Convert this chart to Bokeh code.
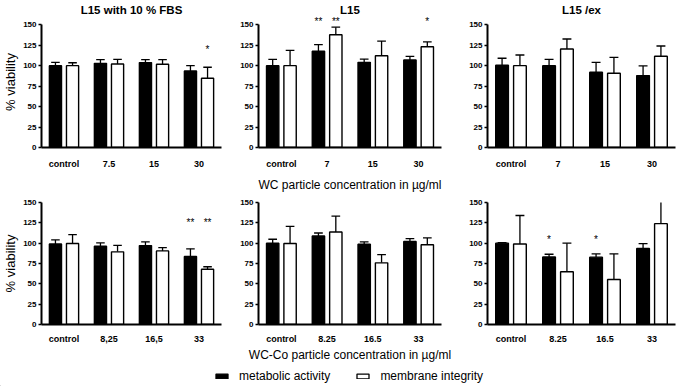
from bokeh.plotting import figure
from bokeh.layouts import column, row
from bokeh.models import ColumnDataSource, FactorRange, Range1d, FixedTicker, Legend, LegendItem
from bokeh.transform import dodge
from bokeh.embed import file_html
from bokeh.resources import INLINE
from bokeh.core.properties import value

# ---------------- data ----------------
titles = ["L15 with 10 % FBS", "L15", "L15 /ex"]
xlabel_top = "WC particle concentration in µg/ml"
xlabel_bottom = "WC-Co particle concentration in µg/ml"
ylabel = "% viability"
series_names = ["metabolic activity", "membrane integrity"]
yticks = [0, 25, 50, 75, 100, 125, 150]

# top-left: L15 with 10 % FBS, WC
tl_cats = ["control", "7.5", "15", "30"]
tl_met = [100, 102.8, 103.7, 93.5]
tl_met_sd = [4, 4.5, 3.6, 6.5]
tl_mem = [100, 102, 101.6, 84.6]
tl_mem_sd = [3.5, 5.7, 5.7, 13.4]
tl_star_cat = ["30"]
tl_star_ser = [1]
tl_star_y = [123.7]
tl_star_txt = ["*"]

# top-middle: L15, WC
tm_cats = ["control", "7", "15", "30"]
tm_met = [100, 117.5, 104, 107]
tm_met_sd = [7.7, 8.1, 4, 4.4]
tm_mem = [100, 137.8, 112, 123]
tm_mem_sd = [18.7, 9.2, 18, 6]
tm_star_cat = ["7", "7", "30"]
tm_star_ser = [0, 1, 1]
tm_star_y = [157, 157, 157]
tm_star_txt = ["**", "**", "*"]

# top-right: L15 /ex, WC
tr_cats = ["control", "7", "15", "30"]
tr_met = [100.4, 100, 91.9, 87.8]
tr_met_sd = [8.6, 7.7, 12.1, 11.8]
tr_mem = [100, 120.3, 90.7, 111.4]
tr_mem_sd = [13, 12.2, 19.3, 12.6]
tr_star_cat = []
tr_star_ser = []
tr_star_y = []
tr_star_txt = []

# bottom-left: L15 with 10 % FBS, WC-Co
bl_cats = ["control", "8,25", "16,5", "33"]
bl_met = [99, 96.2, 97, 83.6]
bl_met_sd = [5, 4.1, 4.5, 9.4]
bl_mem = [99.5, 89.3, 90.5, 68]
bl_mem_sd = [11, 8.1, 4.1, 3]
bl_star_cat = ["33", "33"]
bl_star_ser = [0, 1]
bl_star_y = [128.6, 128.6]
bl_star_txt = ["**", "**"]

# bottom-middle: L15, WC-Co
bm_cats = ["control", "8.25", "16.5", "33"]
bm_met = [99.9, 108.8, 98.7, 102]
bm_met_sd = [4.9, 3.7, 2.8, 3.6]
bm_mem = [99.5, 113.7, 75.8, 98]
bm_mem_sd = [21.2, 19.6, 10.2, 8.4]
bm_star_cat = []
bm_star_ser = []
bm_star_y = []
bm_star_txt = []

# bottom-right: L15 /ex, WC-Co
br_cats = ["control", "8.25", "16.5", "33"]
br_met = [100, 83, 82.8, 93.4]
br_met_sd = [0.5, 3.4, 4, 6.1]
br_mem = [99, 64.8, 55.4, 124]
br_mem_sd = [35, 35.2, 31.4, 40]
br_star_cat = ["8.25", "16.5"]
br_star_ser = [0, 0]
br_star_y = [108, 108]
br_star_txt = ["*", "*"]

# ---------------- style ----------------
FONT = "Liberation Sans"
OFF = 0.19
BW = 0.27
CAP = 0.095
colors = ["black", "white"]


def make_panel(cats, met, met_sd, mem, mem_sd, st_cat, st_ser, st_y, st_txt, *,
               ymax, fw, fh, bl, br, bt, bb, title=None, title_offset=0,
               xlabel=None, xlabel_standoff=0, tick_standoff=5, ylab=None):
    p = figure(x_range=FactorRange(factors=cats), y_range=Range1d(0, ymax),
               frame_width=fw, frame_height=fh,
               min_border_left=bl, min_border_right=br,
               min_border_top=bt, min_border_bottom=bb,
               output_backend="svg", toolbar_location=None, title=title)
    if title is not None:
        p.title.align = "center"
        p.title.offset = title_offset
        p.title.text_font = FONT
        p.title.text_font_size = "11.5px"
        p.title.text_font_style = "bold"
        p.title.text_color = "black"
        p.title.standoff = 2
    src = ColumnDataSource(dict(
        cat=cats, met=met, mem=mem,
        met_hi=[m + s for m, s in zip(met, met_sd)],
        mem_hi=[m + s for m, s in zip(mem, mem_sd)],
    ))
    for off, top, hi, fill in [(-OFF, "met", "met_hi", colors[0]),
                               (OFF, "mem", "mem_hi", colors[1])]:
        xc = dodge("cat", off, range=p.x_range)
        p.segment(x0=xc, x1=xc, y0=top, y1=hi, source=src,
                  line_color="black", line_width=1.3)
        p.segment(x0=dodge("cat", off - CAP, range=p.x_range),
                  x1=dodge("cat", off + CAP, range=p.x_range),
                  y0=hi, y1=hi, source=src, line_color="black", line_width=1.3)
        p.vbar(x=xc, top=top, width=BW, source=src, fill_color=fill,
               line_color="black", line_width=1.4)
    for ser, off in [(0, -OFF), (1, OFF)]:
        idx = [i for i, s in enumerate(st_ser) if s == ser]
        if not idx:
            continue
        ssrc = ColumnDataSource(dict(cat=[st_cat[i] for i in idx],
                                     y=[st_y[i] for i in idx],
                                     t=[st_txt[i] for i in idx]))
        p.text(x=dodge("cat", off, range=p.x_range), y="y", text="t", source=ssrc,
               text_align="center", text_baseline="middle", y_offset=3,
               text_font=value(FONT), text_font_size="10px", text_color="black")

    p.xgrid.visible = False
    p.ygrid.visible = False
    p.outline_line_color = None
    p.background_fill_color = "white"
    p.border_fill_color = "white"

    yax = p.yaxis[0]
    yax.ticker = FixedTicker(ticks=yticks)
    yax.bounds = (0, 150)
    yax.minor_tick_line_color = None
    yax.major_tick_in = 0
    yax.major_tick_out = 3
    yax.major_tick_line_width = 1.5
    yax.major_tick_line_color = "black"
    yax.axis_line_width = 2
    yax.axis_line_color = "black"
    yax.major_label_text_font = FONT
    yax.major_label_text_font_size = "8px"
    yax.major_label_text_font_style = "bold"
    yax.major_label_text_color = "black"
    yax.major_label_standoff = 2
    if ylab:
        yax.axis_label = ylab
        yax.axis_label_text_font = FONT
        yax.axis_label_text_font_size = "13px"
        yax.axis_label_text_font_style = "normal"
        yax.axis_label_text_color = "black"
        yax.axis_label_standoff = 2

    xax = p.xaxis[0]
    xax.major_tick_line_color = None
    xax.minor_tick_line_color = None
    xax.axis_line_width = 2
    xax.axis_line_color = "black"
    xax.major_label_text_font = FONT
    xax.major_label_text_font_size = "9px"
    xax.major_label_text_font_style = "bold"
    xax.major_label_text_color = "black"
    xax.major_label_standoff = tick_standoff
    if xlabel:
        xax.axis_label = xlabel
        xax.axis_label_text_font = FONT
        xax.axis_label_text_font_size = "12px"
        xax.axis_label_text_font_style = "normal"
        xax.axis_label_text_color = "black"
        xax.axis_label_standoff = xlabel_standoff
    return p


cols = [dict(bl=35, fw=180, br=7), dict(bl=30, fw=183, br=12), dict(bl=34, fw=188, br=1)]
top_row = dict(ymax=160, fh=131, bt=15, bb=44, tick_standoff=5)
bot_row = dict(ymax=150, fh=122, bt=8, bb=36, tick_standoff=3)

p1 = make_panel(tl_cats, tl_met, tl_met_sd, tl_mem, tl_mem_sd,
                tl_star_cat, tl_star_ser, tl_star_y, tl_star_txt,
                title=titles[0], title_offset=8, ylab=ylabel, **cols[0], **top_row)
p2 = make_panel(tm_cats, tm_met, tm_met_sd, tm_mem, tm_mem_sd,
                tm_star_cat, tm_star_ser, tm_star_y, tm_star_txt,
                title=titles[1], xlabel=xlabel_top, xlabel_standoff=6,
                **cols[1], **top_row)
p3 = make_panel(tr_cats, tr_met, tr_met_sd, tr_mem, tr_mem_sd,
                tr_star_cat, tr_star_ser, tr_star_y, tr_star_txt,
                title=titles[2], title_offset=14, **cols[2], **top_row)
p4 = make_panel(bl_cats, bl_met, bl_met_sd, bl_mem, bl_mem_sd,
                bl_star_cat, bl_star_ser, bl_star_y, bl_star_txt,
                ylab=ylabel, **cols[0], **bot_row)
p5 = make_panel(bm_cats, bm_met, bm_met_sd, bm_mem, bm_mem_sd,
                bm_star_cat, bm_star_ser, bm_star_y, bm_star_txt,
                xlabel=xlabel_bottom, xlabel_standoff=1, **cols[1], **bot_row)
p6 = make_panel(br_cats, br_met, br_met_sd, br_mem, br_mem_sd,
                br_star_cat, br_star_ser, br_star_y, br_star_txt,
                **cols[2], **bot_row)

# legend strip (proxy bars lie outside the visible range)
lf = figure(width=670, height=22, x_range=Range1d(0, 1), y_range=Range1d(0, 1),
            x_axis_location=None, y_axis_location=None, min_border=0,
            output_backend="svg", toolbar_location=None)
lf.outline_line_color = None
lf.xgrid.visible = False
lf.ygrid.visible = False
proxy = ColumnDataSource(dict(x=[-10], top=[-10]))
r1 = lf.vbar(x="x", top="top", width=0.1, source=proxy, fill_color=colors[0],
             line_color="black", line_width=1.3)
r2 = lf.vbar(x="x", top="top", width=0.1, source=proxy, fill_color=colors[1],
             line_color="black", line_width=1.3)
leg = Legend(items=[LegendItem(label=series_names[0], renderers=[r1]),
                    LegendItem(label=series_names[1], renderers=[r2])],
             orientation="horizontal", location=(214, 3),
             glyph_width=15, glyph_height=6, label_height=12, label_standoff=10,
             spacing=25, padding=0, margin=0, border_line_color=None,
             background_fill_alpha=0, label_text_font=FONT,
             label_text_font_size="12px", label_text_color="black")
lf.add_layout(leg)

layout = column(row(p1, p2, p3), row(p4, p5, p6), lf)
open("out.html", "w").write(file_html(layout, INLINE))
